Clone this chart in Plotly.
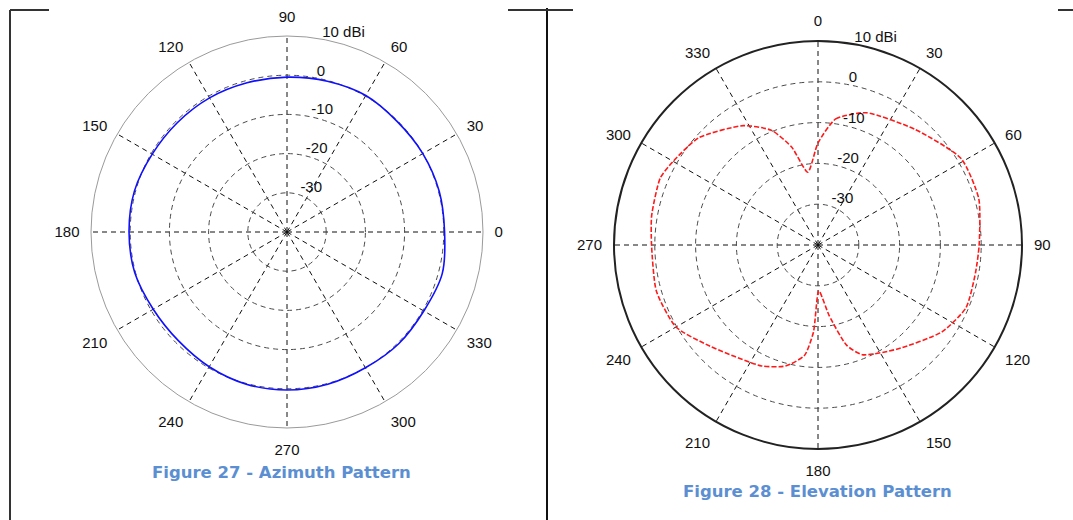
import plotly.graph_objects as go

# ---------------- data ----------------
az_theta = [0, 15, 30, 45, 60, 75, 90, 105, 120, 135, 150, 165, 180,
            195, 210, 225, 240, 255, 270, 285, 300, 315, 330, 345, 360]
az_gain = [0.2, 0.2, 0.0, -0.2, 0.2, -0.2, -0.5, -0.6, -0.5, -0.5, -0.3, 0.3, 0.3,
           0.2, -0.6, -0.8, -0.3, 0.2, 0.3, 0.2, 0.0, 0.3, 0.3, 1.0, 0.2]

el_theta = [0, 8, 20, 40, 59, 74, 90, 100, 113, 125, 143, 158, 164, 171, 179,
            183, 187, 195, 205, 227, 240, 254, 270, 280, 293, 300, 312, 328,
            338, 345, 352, 360]
el_gain = [-15.0, -8.8, -5.5, -3.0, 1.0, 1.0, -0.5, -0.8, -0.6, -2.9, -8.0, -11.0,
           -14.4, -22.5, -28.8, -18.6, -12.7, -9.3, -7.3, -3.7, 0.2, 1.2, 0.8,
           1.4, 2.0, 1.0, -0.7, -5.5, -9.7, -15.2, -22.0, -15.0]

ang_ticks = list(range(0, 360, 30))
ang_text = [str(a) for a in ang_ticks]
rad_ticks = [-30, -20, -10, 0, 10]
rad_text = ["-30", "-20", "-10", "0", "10 dBi"]
captions = ["Figure 27 - Azimuth Pattern", "Figure 28 - Elevation Pattern"]

W, H = 1073, 520
FONT = "Liberation Sans, Arial, sans-serif"
CAP_FONT = dict(family="DejaVu Sans, Verdana, sans-serif", size=16.5,
                color="#5b8fd2", weight="bold")

fig = go.Figure()
fig.add_trace(go.Scatterpolar(theta=az_theta, r=az_gain, mode="lines",
                              line=dict(color="#1010ff", width=1.6, shape="spline"),
                              subplot="polar", showlegend=False))
fig.add_trace(go.Scatterpolar(theta=el_theta, r=el_gain, mode="lines",
                              line=dict(color="#ff1a1a", width=1.6, dash="5px,2px",
                                        shape="spline", smoothing=0.6),
                              subplot="polar2", showlegend=False))


def polar_layout(dom_x, dom_y, rotation, direction, linecolor, linewidth):
    return dict(
        domain=dict(x=dom_x, y=dom_y),
        bgcolor="white",
        radialaxis=dict(range=[-40, 10], tickvals=rad_ticks,
                        ticktext=[t + "<br> " for t in rad_text],
                        angle=82, tickangle=82, showline=False, ticks="",
                        gridcolor="#4a4a4a", griddash="5px,4px", gridwidth=1,
                        tickfont=dict(family=FONT, size=15, color="#111")),
        angularaxis=dict(rotation=rotation, direction=direction,
                         tickvals=ang_ticks, ticktext=ang_text,
                         showline=True, linecolor=linecolor, linewidth=linewidth,
                         gridcolor="#111111", griddash="5px,4px", gridwidth=1.3,
                         ticks="outside", ticklen=8, tickcolor="rgba(0,0,0,0)",
                         tickfont=dict(family=FONT, size=15, color="#111")),
    )


fig.update_layout(
    width=W, height=H,
    margin=dict(l=0, r=0, t=0, b=0),
    paper_bgcolor="white",
    polar=polar_layout([91 / W, 483 / W], [(H - 428) / H, (H - 36) / H],
                       0, "counterclockwise", "#9a9a9a", 1),
    polar2=polar_layout([614 / W, 1022 / W], [(H - 449) / H, (H - 41) / H],
                        90, "clockwise", "#222222", 2),
    annotations=[
        dict(text=captions[0], x=281 / W, y=1 - 472 / H, xref="paper", yref="paper",
             xanchor="center", yanchor="middle", showarrow=False, font=CAP_FONT),
        dict(text=captions[1], x=817 / W, y=1 - 491 / H, xref="paper", yref="paper",
             xanchor="center", yanchor="middle", showarrow=False, font=CAP_FONT),
    ],
    shapes=[
        dict(type="line", xref="paper", yref="paper", x0=10 / W, x1=10 / W,
             y0=1 - 10 / H, y1=0, line=dict(color="#333", width=2)),
        dict(type="line", xref="paper", yref="paper", x0=10 / W, x1=49 / W,
             y0=1 - 10 / H, y1=1 - 10 / H, line=dict(color="#333", width=2)),
        dict(type="line", xref="paper", yref="paper", x0=547 / W, x1=547 / W,
             y0=1 - 8 / H, y1=0, line=dict(color="#111", width=2)),
        dict(type="line", xref="paper", yref="paper", x0=508 / W, x1=573 / W,
             y0=1 - 10 / H, y1=1 - 10 / H, line=dict(color="#333", width=2)),
        dict(type="line", xref="paper", yref="paper", x0=1058 / W, x1=1073 / W,
             y0=1 - 10 / H, y1=1 - 10 / H, line=dict(color="#333", width=2)),
    ],
)

fig.write_html("out.html")
